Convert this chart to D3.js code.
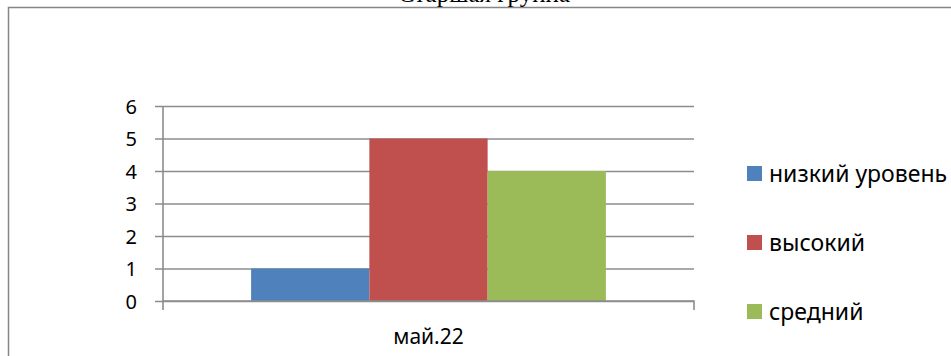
<!DOCTYPE html>
<html><head><meta charset="utf-8">
<script src="https://cdn.jsdelivr.net/npm/d3@7"></script>
<style>html,body{margin:0;padding:0;background:#fff;overflow:hidden}</style>
</head><body>
<script>
const title = "Старшая группа";
const categories = ["май.22"];
const seriesNames = ["низкий уровень", "высокий", "средний"];
const seriesColors = ["#4F81BD", "#C0504D", "#9BBB59"];
const seriesValues = [[1], [5], [4]];
const yTicks = [0, 1, 2, 3, 4, 5, 6];

const W = 951, H = 356;
const svg = d3.select("body").append("svg").attr("width", W).attr("height", H);
const font = "'Noto Sans', sans-serif";

// outer frame
svg.append("rect").attr("x", 8.5).attr("y", 7.5).attr("width", 1000).attr("height", 400)
  .attr("fill", "none").attr("stroke", "#868686").attr("stroke-width", 1.5);

// title (clipped at top)
svg.append("text").attr("x", 484).attr("y", 2).attr("text-anchor", "middle")
  .attr("font-family", "'Liberation Serif', serif").attr("font-size", 25).text(title);

const pL = 163, pR = 694, pT = 106, pB = 301;
const x = d3.scaleBand().domain(categories).range([pL, pR]).paddingInner(0).paddingOuter(0);
const inner = d3.scaleBand().domain(seriesNames).range([0, x.bandwidth()]).paddingOuter(0.745).paddingInner(0);
const y = d3.scaleLinear().domain([0, 6]).range([pB, pT]);

// gridlines
const yAxis = d3.axisLeft(y).tickValues(yTicks).tickSize(-(pR - pL)).tickPadding(26).tickFormat(d3.format("d"));
const gy = svg.append("g").attr("transform", `translate(${pL},0)`).call(yAxis);
gy.select(".domain").remove();
gy.selectAll(".tick line").attr("x1", -8).attr("x2", pR - pL).attr("stroke", "#8c8c8c").attr("stroke-width", 1.6);
gy.selectAll(".tick text").attr("font-family", font).attr("font-size", 20).attr("fill", "#000").attr("dy", "0.36em");

// bars
seriesNames.forEach((s, i) => {
  svg.append("g").selectAll("rect").data(categories).join("rect")
    .attr("x", c => x(c) + inner(s)).attr("width", inner.bandwidth())
    .attr("y", (c, j) => y(seriesValues[i][j])).attr("height", (c, j) => y(0) - y(seriesValues[i][j]))
    .attr("fill", seriesColors[i]);
});

// axes lines
svg.append("line").attr("x1", pL).attr("x2", pL).attr("y1", pT).attr("y2", pB + 9)
  .attr("stroke", "#8c8c8c").attr("stroke-width", 1.6);
const xAxis = d3.axisBottom(x).tickSize(0).tickPadding(0);
const gx = svg.append("g").attr("transform", `translate(0,${pB})`).call(xAxis);
gx.select(".domain").attr("stroke", "#8c8c8c").attr("stroke-width", 1.6).attr("d", `M${pL},0H${pR}V9`);
gx.selectAll(".tick text").attr("font-family", font).attr("font-size", 21).attr("fill", "#000")
  .attr("dy", null).attr("y", 43);

// legend
const leg = svg.append("g");
seriesNames.forEach((s, i) => {
  const ly = 166 + i * 69;
  leg.append("rect").attr("x", 747).attr("y", ly).attr("width", 15).attr("height", 15).attr("fill", seriesColors[i]);
  leg.append("text").attr("x", 769).attr("y", ly + 15.5).attr("font-family", font).attr("font-size", 23).attr("fill", "#000").text(s);
});
</script>
</body></html>
